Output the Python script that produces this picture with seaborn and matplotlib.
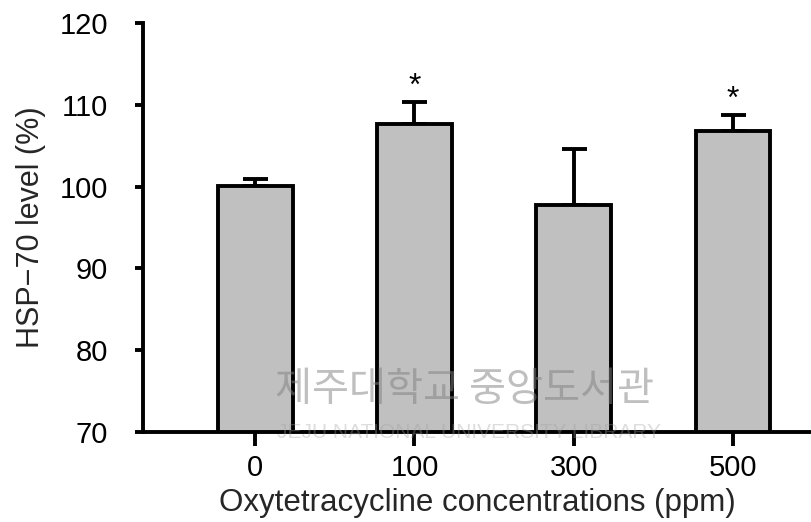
import matplotlib
matplotlib.use("Agg")
import matplotlib.pyplot as plt
import seaborn as sns
import numpy as np
import pandas as pd

categories = ["0", "100", "300", "500"]
means = [100.1, 107.6, 97.7, 106.8]
errors = [0.8, 2.8, 6.9, 2.0]
significant = [False, True, False, True]
yticks = [70, 80, 90, 100, 110, 120]

sns.set_theme(style="white")
plt.rcParams["font.family"] = ["Liberation Sans", "DejaVu Sans"]

df = pd.DataFrame({"conc": categories, "level": means})

fig = plt.figure(figsize=(8.11, 5.22), dpi=100)
ax = fig.add_axes([0.1763, 0.1724, 0.8237, 0.7836])

LW = 2.8
sns.barplot(data=df, x="conc", y="level", color="#c0c0c0", edgecolor="black",
            linewidth=LW, width=0.47, saturation=1, ax=ax, zorder=2)

xpos = np.arange(len(categories))
ax.errorbar(xpos, means, yerr=[np.zeros(len(errors)), errors], fmt="none",
            ecolor="black", elinewidth=LW, capsize=9, capthick=LW, zorder=1)

for x, m, e, s in zip(xpos, means, errors, significant):
    if s:
        ax.annotate("*", (x, m + e), xytext=(0, 0), textcoords="offset points",
                    ha="center", va="bottom", fontsize=23, color="black")

ax.set_ylim(70, 120)
ax.set_xlim(-0.705, 3.49)
ax.set_yticks(yticks)
ax.set_yticklabels([str(t) for t in yticks])

ax.set_xlabel("Oxytetracycline concentrations (ppm)", fontsize=22.5, labelpad=4)
ax.set_ylabel("HSP\u221270 level (%)", fontsize=22, labelpad=10)

for side in ["top", "right"]:
    ax.spines[side].set_visible(False)
for side in ["left", "bottom"]:
    ax.spines[side].set_color("black")
    ax.spines[side].set_linewidth(LW)

ax.tick_params(axis="y", direction="out", length=6, width=LW, pad=19,
               labelsize=21, colors="black", left=True)
ax.tick_params(axis="x", direction="out", length=10, width=LW, pad=6,
               labelsize=21, colors="black", bottom=True)

# faint library watermark
fig.text(0.573, 0.253, "제주대학교 중앙도서관", fontsize=29, color="#808080",
         alpha=0.5, ha="center", va="center",
         family=["Noto Sans CJK KR", "DejaVu Sans"], zorder=10)
fig.text(0.578, 0.172, "JEJU NATIONAL UNIVERSITY LIBRARY", fontsize=15,
         color="#a0a0a0", alpha=0.35, ha="center", va="center", zorder=10)

fig.savefig("out.png", dpi=100)
